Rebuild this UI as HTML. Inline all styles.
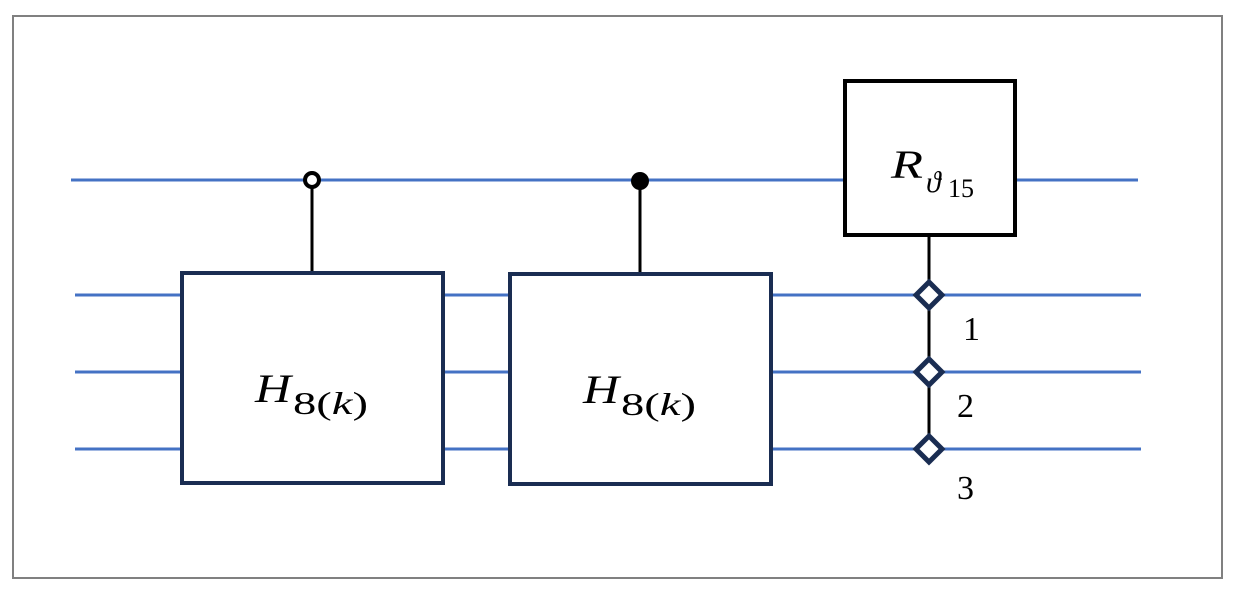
<!DOCTYPE html>
<html><head><style>body{margin:0;background:#fff}svg{display:block}</style></head><body>
<svg width="1234" height="591" xmlns="http://www.w3.org/2000/svg">
<rect x="13" y="16" width="1209" height="562" fill="#fff" stroke="#808080" stroke-width="2"/>
<g stroke="#4472c4" stroke-width="3">
<line x1="71" y1="180" x2="1138" y2="180"/>
<line x1="75" y1="295" x2="1141" y2="295"/>
<line x1="75" y1="372" x2="1141" y2="372"/>
<line x1="75" y1="449" x2="1141" y2="449"/>
</g>
<g stroke="#000" stroke-width="3">
<line x1="312" y1="186" x2="312" y2="273"/>
<line x1="640" y1="186" x2="640" y2="273"/>
<line x1="929" y1="235" x2="929" y2="449"/>
</g>
<circle cx="312" cy="180" r="7" fill="#fff" stroke="#000" stroke-width="4"/>
<circle cx="640" cy="181" r="9" fill="#000"/>
<rect x="182" y="273" width="261" height="210" fill="#fff" stroke="#1a2d52" stroke-width="4"/>
<rect x="510" y="274" width="261" height="210" fill="#fff" stroke="#1a2d52" stroke-width="4"/>
<rect x="845" y="81" width="170" height="154" fill="#fff" stroke="#000" stroke-width="4"/>
<g fill="#fff" stroke="#1a2d52" stroke-width="5">
<polygon points="929,282 942,295 929,308 916,295"/>
<polygon points="929,359 942,372 929,385 916,372"/>
<polygon points="929,436 942,449 929,462 916,449"/>
</g>
<g font-family="Liberation Serif, serif" fill="#000">
<text x="255" y="402" font-size="40" font-style="italic" textLength="36" lengthAdjust="spacingAndGlyphs">H</text>
<text x="293" y="414" font-size="32" textLength="75" lengthAdjust="spacingAndGlyphs">8(<tspan font-style="italic">k</tspan>)</text>
<text x="583" y="403" font-size="40" font-style="italic" textLength="36" lengthAdjust="spacingAndGlyphs">H</text>
<text x="621" y="415" font-size="32" textLength="75" lengthAdjust="spacingAndGlyphs">8(<tspan font-style="italic">k</tspan>)</text>
<text x="891" y="178" font-size="40" font-style="italic" textLength="32" lengthAdjust="spacingAndGlyphs">R</text>
<text x="926" y="192" font-size="30" font-style="italic">ϑ</text>
<text x="948" y="197" font-size="26">15</text>
<text x="963" y="340" font-size="34">1</text>
<text x="957" y="417" font-size="34">2</text>
<text x="957" y="499" font-size="34">3</text>
</g>
</svg>
</body></html>
